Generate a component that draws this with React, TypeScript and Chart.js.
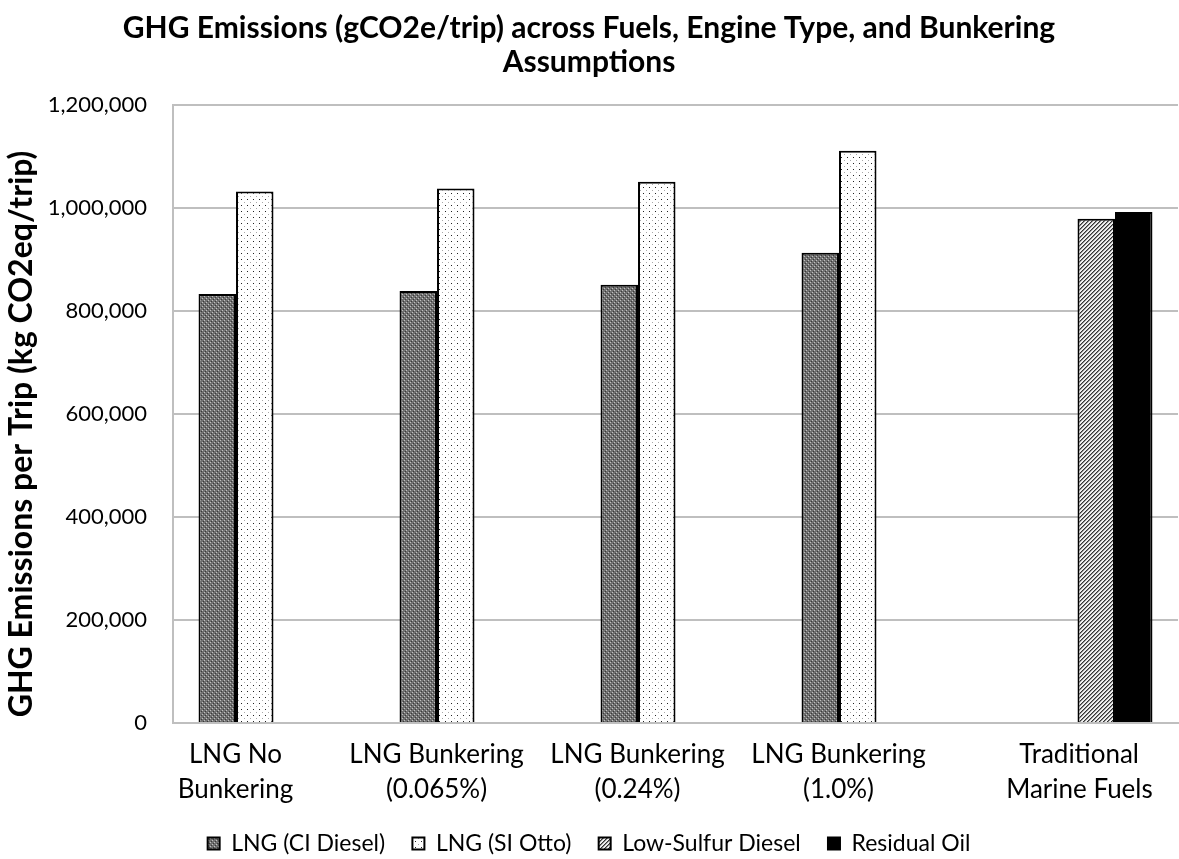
import React, { useEffect, useRef } from "react";
import { Chart, registerables } from "chart.js";
Chart.register(...registerables);

const categories: string[][] = [
  ["LNG No", "Bunkering"],
  ["LNG Bunkering", "(0.065%)"],
  ["LNG Bunkering", "(0.24%)"],
  ["LNG Bunkering", "(1.0%)"],
  ["Traditional", "Marine Fuels"],
];
const seriesNames = ["LNG (CI Diesel)", "LNG (SI Otto)", "Low-Sulfur Diesel", "Residual Oil"];
const lngCiDiesel = [833000, 839000, 851000, 913000, null];
const lngSiOtto = [1032000, 1038000, 1051000, 1111000, null];
const lowSulfurDiesel = [null, null, null, null, 979000];
const residualOil = [null, null, null, null, 992000];
const yMin = 0;
const yMax = 1200000;
const yStep = 200000;

const FONT = "Lato, 'Open Sans', sans-serif";

function makePattern(w: number, h: number, bg: string, px: [number, number, string][]) {
  const c = document.createElement("canvas");
  c.width = w;
  c.height = h;
  const g = c.getContext("2d")!;
  g.fillStyle = bg;
  g.fillRect(0, 0, w, h);
  for (const [x, y, col] of px) {
    g.fillStyle = col;
    g.fillRect(x, y, 1, 1);
  }
  return g.createPattern(c, "repeat")!;
}

export default function App() {
  const ref = useRef<HTMLCanvasElement>(null);
  useEffect(() => {
    document.body.style.margin = "0";
    const ciPat = makePattern(4, 4, "#707070", [
      [0, 0, "#c0c0c0"], [2, 2, "#c0c0c0"], [1, 3, "#3a3a3a"], [3, 1, "#3a3a3a"],
    ]);
    const siPat = makePattern(6, 6, "#ffffff", [
      [1, 1, "#222"], [4, 4, "#aaa"],
    ]);
    const lsdPx: [number, number, string][] = [];
    for (let x = 0; x < 4; x++)
      for (let y = 0; y < 4; y++) {
        const m = (x + y) % 4;
        if (m === 0) lsdPx.push([x, y, "#333"]);
        else if (m === 1) lsdPx.push([x, y, "#8a8a8a"]);
      }
    const lsdPat = makePattern(4, 4, "#efefef", lsdPx);

    const fills = [ciPat, siPat, lsdPat, "#000000"];
    const values = [lngCiDiesel, lngSiOtto, lowSulfurDiesel, residualOil];

    const defaultGen = (Chart as any).defaults.plugins.legend.labels.generateLabels;

    const chart = new Chart(ref.current!, {
      type: "bar",
      data: {
        labels: categories,
        datasets: seriesNames.map((name, i) => ({
          label: name,
          data: values[i],
          backgroundColor: fills[i] as any,
          borderColor: "#000",
          borderWidth: 2,
          categoryPercentage: 0.746,
          barPercentage: 1,
        })),
      },
      options: {
        responsive: false,
        animation: false,
        layout: { padding: { left: 0, right: 1, top: 0, bottom: -6 } },
        plugins: {
          title: {
            display: true,
            text: ["GHG Emissions (gCO2e/trip) across Fuels, Engine Type, and Bunkering", "Assumptions"],
            color: "#000",
            font: { family: FONT, size: 30, weight: "bold", lineHeight: 1.15 },
            padding: { top: 11, bottom: 25 },
          },
          legend: {
            position: "bottom",
            labels: {
              color: "#000",
              font: { family: FONT, size: 23 },
              boxWidth: 12,
              boxHeight: 12,
              padding: 10,
              generateLabels: (c: any) =>
                defaultGen(c).map((l: any, i: number, arr: any[]) => ({
                  ...l,
                  text: i < arr.length - 1 ? l.text + "\u2003" : l.text,
                })),
            },
          },
          tooltip: { enabled: false },
        },
        scales: {
          x: {
            grid: { display: false },
            border: { display: true, color: "#bfbfbf", width: 2 },
            ticks: {
              color: "#000",
              font: { family: FONT, size: 26, lineHeight: 1.35 },
              padding: 6,
              maxRotation: 0,
              autoSkip: false,
              labelOffset: -38,
              callback: (_v: any, i: number) =>
                i === 4 ? categories[i].map((l) => "\u00A0".repeat(12) + l) : categories[i],
            },
            afterFit: (s: any) => {
              s.height = 99;
              s.paddingLeft = 0;
              s.paddingRight = 0;
            },
          },
          y: {
            min: yMin,
            max: yMax,
            grid: { color: "#bfbfbf", lineWidth: 2, drawTicks: false },
            border: { display: true, color: "#bfbfbf", width: 2 },
            ticks: {
              stepSize: yStep,
              color: "#000",
              font: { family: FONT, size: 22 },
              padding: 26,
              callback: (v: any) => Number(v).toLocaleString("en-US"),
            },
            title: {
              display: true,
              text: "GHG Emissions per Trip (kg CO2eq/trip)\u2003\u2002",
              color: "#000",
              font: { family: FONT, size: 32, weight: "bold" },
              padding: { top: 2, bottom: 0 },
            },
            afterFit: (s: any) => {
              s.width = 173;
            },
          },
        },
      },
    });
    return () => chart.destroy();
  }, []);
  return (
    <div style={{ width: 1179, height: 859, background: "#fff" }}>
      <canvas ref={ref} width={1179} height={859} />
    </div>
  );
}
